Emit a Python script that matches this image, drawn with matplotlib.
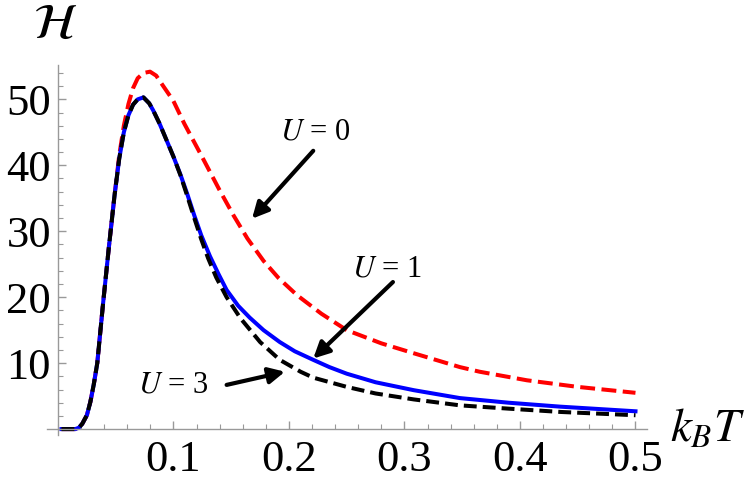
import matplotlib
matplotlib.use("Agg")
import matplotlib.pyplot as plt
from matplotlib.ticker import MultipleLocator

plt.rcParams['font.family'] = ['Liberation Serif', 'DejaVu Serif']
plt.rcParams['mathtext.fontset'] = 'stix'

# U = 3 (black dashed)
x_u3 = [0.003, 0.015, 0.018, 0.021, 0.025, 0.028, 0.031, 0.034, 0.039, 0.044, 0.049,
        0.053, 0.057, 0.061, 0.065, 0.069, 0.074, 0.079, 0.0825, 0.088, 0.094, 0.100,
        0.106, 0.112, 0.118, 0.124, 0.130, 0.137, 0.146, 0.158, 0.175, 0.192, 0.21,
        0.221, 0.25, 0.275, 0.308, 0.348, 0.39, 0.435, 0.5]
y_u3 = [0, 0, 0.2, 0.8, 2.1, 4.1, 6.8, 10, 19, 27.5, 35.5,
        41, 45, 47.6, 49.2, 50.0, 50.3, 49.4, 48.3, 46.3, 43.8, 41.3,
        38.5, 35.3, 32, 28.8, 25.9, 23.0, 20, 16.8, 13.2, 10.5, 8.7,
        7.8, 6.4, 5.4, 4.5, 3.6, 3.1, 2.6, 2.1]

# U = 1 (blue solid)
x_u1 = [0.003, 0.015, 0.018, 0.021, 0.025, 0.028, 0.031, 0.034, 0.039, 0.044, 0.049,
        0.053, 0.057, 0.061, 0.065, 0.069, 0.074, 0.079, 0.0825, 0.088, 0.094, 0.100,
        0.106, 0.112, 0.118, 0.124, 0.1316, 0.139, 0.146, 0.156, 0.166, 0.178, 0.192,
        0.205, 0.221, 0.235, 0.25, 0.275, 0.308, 0.348, 0.39, 0.435, 0.5]
y_u1 = [0, 0, 0.2, 0.8, 2.1, 4.1, 6.8, 10, 19, 27.5, 35.5,
        41, 45, 47.6, 49.2, 50.0, 50.3, 49.4, 48.3, 46.3, 43.8, 41.3,
        38.6, 35.6, 32.4, 29.4, 26.2, 23.5, 21.1, 18.7, 16.9, 15.0, 13.2,
        11.8, 10.5, 9.4, 8.4, 7.1, 5.9, 4.7, 4.0, 3.4, 2.7]

# U = 0 (red dashed)
x_u0 = [0.003, 0.015, 0.018, 0.021, 0.025, 0.028, 0.031, 0.034, 0.039, 0.044, 0.049,
        0.053, 0.057, 0.061, 0.065, 0.069, 0.074, 0.0797, 0.085, 0.09, 0.0998, 0.1094,
        0.1247, 0.140, 0.152, 0.164, 0.178, 0.191, 0.207, 0.228, 0.25, 0.28, 0.308,
        0.348, 0.365, 0.406, 0.45, 0.5]
y_u0 = [0, 0, 0.2, 0.8, 2.1, 4.1, 6.8, 10, 19, 27.5, 35.5,
        41.5, 46, 49.3, 51.7, 53.2, 54.0, 54.2, 53.6, 52.3, 49.8, 46.3,
        41.3, 36.2, 32.4, 28.9, 25.5, 22.9, 20.3, 17.5, 15, 13, 11.5,
        9.4, 8.7, 7.4, 6.4, 5.5]

fig = plt.figure(figsize=(7.5, 4.9), dpi=100)
ax = fig.add_axes([0.0627, 0.1122, 0.8, 0.755])

ax.plot(x_u0, y_u0, color='#ff0000', lw=2.9, dashes=(3.7, 1.6))
ax.plot(x_u1, y_u1, color='#0000ff', lw=2.9)
ax.plot(x_u3, y_u3, color='black', lw=2.9, dashes=(3.2, 1.5))

ax.set_xlim(-0.0095, 0.51)
ax.set_ylim(-0.9, 55.2)

for s in ['top', 'right']:
    ax.spines[s].set_visible(False)
ax.spines['left'].set_position(('data', 0))
ax.spines['bottom'].set_position(('data', 0))
for s in ['left', 'bottom']:
    ax.spines[s].set_color('#999999')
    ax.spines[s].set_linewidth(1)

ax.xaxis.set_minor_locator(MultipleLocator(0.02))
ax.yaxis.set_minor_locator(MultipleLocator(2))
ax.set_xticks([0.1, 0.2, 0.3, 0.4, 0.5])
ax.set_xticklabels(['0.1', '0.2', '0.3', '0.4', '0.5'])
ax.set_yticks([10, 20, 30, 40, 50])
ax.tick_params(which='both', direction='in', color='#999999', labelsize=32)
ax.tick_params(which='major', length=6, width=1)
ax.tick_params(which='minor', length=3.5, width=0.8)
ax.tick_params(axis='x', pad=8)
ax.tick_params(axis='y', pad=5)

fig.text(0.073, 0.948, r'$\mathcal{H}$', fontsize=36, ha='center', va='center')
fig.text(0.943, 0.122, r'$k_B T$', fontsize=34, ha='center', va='center')

arrow = dict(arrowstyle='-|>', lw=3, color='black', mutation_scale=24,
             shrinkA=0, shrinkB=0)
ax.text(0.2225, 45.0, r'$U$ = 0', fontsize=22, ha='center', va='center')
ax.annotate('', xy=(0.168, 31.9), xytext=(0.221, 42.2), arrowprops=arrow)
ax.text(0.2845, 24.3, r'$U$ = 1', fontsize=22, ha='center', va='center')
ax.annotate('', xy=(0.221, 10.7), xytext=(0.290, 22.3), arrowprops=arrow)
ax.text(0.10, 6.7, r'$U$ = 3', fontsize=22, ha='center', va='center')
ax.annotate('', xy=(0.1965, 8.7), xytext=(0.146, 6.7), arrowprops=arrow)

fig.savefig('out.png', dpi=100)
